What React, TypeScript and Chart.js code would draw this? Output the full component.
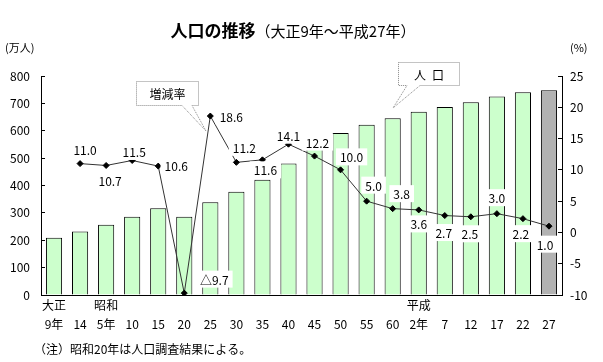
import React, { useEffect, useRef } from "react";
import { Chart, registerables } from "chart.js";

Chart.register(...registerables);

const eraLabels = ["大正", "", "昭和", "", "", "", "", "", "", "", "", "", "", "", "平成", "", "", "", "", ""];
const yearLabels = ["9年", "14", "5年", "10", "15", "20", "25", "30", "35", "40", "45", "50", "55", "60", "2年", "7", "12", "17", "22", "27"];
const population = [209, 232, 257, 286, 317, 286, 339, 377, 421, 480, 539, 592, 622, 646, 669, 687, 704, 725, 741, 748];
const growthRate = [null, 11.0, 10.7, 11.5, 10.6, -9.7, 18.6, 11.2, 11.6, 14.1, 12.2, 10.0, 5.0, 3.8, 3.6, 2.7, 2.5, 3.0, 2.2, 1.0];
// label offsets (dx, dy) relative to each point
const labelOffsets: [number, number][] = [
  [0, 0], [5, -14], [4, 15], [2, -9], [18, -1], [30, -14], [21, 0], [8, -15], [3, 10], [0, -9],
  [3, -14], [11, -13], [7, -16], [9, -15], [0, 14], [-1, 17], [-1, 17], [0, -16], [-2, 15], [-4, 18],
];

const FONT = "'Noto Sans CJK JP', 'Noto Sans', sans-serif";

const labelsPlugin = {
  id: "customDraw",
  afterDatasetsDraw(chart: any) {
    const ctx = chart.ctx;
    const meta = chart.getDatasetMeta(1);
    ctx.save();
    ctx.font = `12px ${FONT}`;
    ctx.textAlign = "center";
    ctx.textBaseline = "middle";
    meta.data.forEach((pt: any, i: number) => {
      const v = growthRate[i];
      if (v === null || v === undefined) return;
      const txt = v < 0 ? "△" + Math.abs(v).toFixed(1) : v.toFixed(1);
      const [dx, dy] = labelOffsets[i];
      const x = pt.x + dx;
      const y = pt.y + dy;
      const w = ctx.measureText(txt).width + 8;
      const h = 17;
      ctx.fillStyle = "#ffffff";
      ctx.fillRect(x - w / 2, y - h / 2, w, h);
      ctx.fillStyle = "#000000";
      ctx.fillText(txt, x, y + 1);
    });
    ctx.restore();
  },
  afterDraw(chart: any) {
    const ctx = chart.ctx;
    ctx.save();
    // title
    ctx.fillStyle = "#000";
    ctx.textBaseline = "middle";
    ctx.textAlign = "left";
    ctx.font = `bold 17px ${FONT}`;
    const t1 = "人口の推移";
    const w1 = ctx.measureText(t1).width;
    ctx.font = `15px ${FONT}`;
    const t2 = "（大正9年～平成27年）";
    const w2 = ctx.measureText(t2).width;
    const startX = 293 - (w1 + w2) / 2;
    ctx.font = `bold 17px ${FONT}`;
    ctx.fillText(t1, startX, 31);
    ctx.font = `15px ${FONT}`;
    ctx.fillText(t2, startX + w1, 31);
    // axis units
    ctx.font = `11px ${FONT}`;
    ctx.fillText("(万人)", 5, 48);
    ctx.fillText("(%)", 570, 48);
    // footnote
    ctx.font = `12px ${FONT}`;
    ctx.fillText("（注）昭和20年は人口調査結果による。", 34, 349);

    // callouts
    const callout = (bx: number, by: number, bw: number, bh: number, tail: [number, number][], text: string) => {
      ctx.beginPath();
      ctx.moveTo(bx, by);
      ctx.lineTo(bx + bw, by);
      ctx.lineTo(bx + bw, by + bh);
      ctx.lineTo(tail[1][0], by + bh);
      ctx.lineTo(tail[2][0], tail[2][1]);
      ctx.lineTo(tail[0][0], by + bh);
      ctx.lineTo(bx, by + bh);
      ctx.closePath();
      ctx.fillStyle = "#fff";
      ctx.fill();
      ctx.setLineDash([1, 1]);
      ctx.strokeStyle = "#888";
      ctx.lineWidth = 1;
      ctx.stroke();
      ctx.setLineDash([]);
      ctx.fillStyle = "#000";
      ctx.textAlign = "center";
      ctx.font = `12px ${FONT}`;
      ctx.fillText(text, bx + bw / 2, by + bh / 2 + 1);
    };
    callout(136.5, 81.5, 62, 24, [[182, 0], [192, 0], [206, 131]], "増減率");
    callout(398.5, 62.5, 61, 23, [[407, 0], [420, 0], [393, 108]], "人\u2002口");
    ctx.restore();
  },
};

export default function App() {
  const ref = useRef<HTMLCanvasElement | null>(null);
  useEffect(() => {
    if (!ref.current) return;
    const labels = yearLabels.map((y, i) => [eraLabels[i], y]);
    const chart = new Chart(ref.current, {
      type: "bar",
      data: {
        labels,
        datasets: [
          {
            type: "bar",
            label: "人口",
            data: population,
            yAxisID: "y",
            backgroundColor: population.map((_, i) => (i === population.length - 1 ? "#b2b2b2" : "#ccffcc")),
            borderColor: "#000",
            borderWidth: 1,
            barPercentage: 0.62,
            categoryPercentage: 1,
            order: 2,
          },
          {
            type: "line",
            label: "増減率",
            data: growthRate as any,
            yAxisID: "y1",
            borderColor: "#333",
            borderWidth: 1,
            pointStyle: "rectRot",
            pointRadius: 3,
            pointBackgroundColor: "#000",
            pointBorderColor: "#000",
            spanGaps: false,
            order: 1,
          },
        ],
      },
      options: {
        responsive: false,
        animation: false,
        devicePixelRatio: 1,
        layout: { padding: { top: 76, left: 0, right: 0, bottom: 0 } },
        plugins: { legend: { display: false }, tooltip: { enabled: false }, title: { display: false } },
        scales: {
          x: {
            grid: { display: false },
            border: { display: true, color: "#000", width: 1 },
            ticks: {
              autoSkip: false,
              maxRotation: 0,
              minRotation: 0,
              color: "#000",
              padding: -7,
              font: { family: FONT, size: 12, lineHeight: "19px" as any },
            },
            afterFit: (s: any) => { s.height = 67; },
          },
          y: {
            position: "left",
            min: 0,
            max: 800,
            ticks: { stepSize: 100, color: "#000", padding: 15, font: { family: FONT, size: 12 } },
            grid: { drawOnChartArea: false, tickLength: -4, color: "#000" },
            border: { display: true, color: "#000", width: 1 },
            afterFit: (s: any) => { s.width = 41; },
          },
          y1: {
            position: "right",
            min: -10,
            max: 25,
            ticks: { stepSize: 5, color: "#000", padding: 12, font: { family: FONT, size: 12 } },
            grid: { drawOnChartArea: false, tickLength: -4, color: "#000" },
            border: { display: true, color: "#000", width: 1 },
            afterFit: (s: any) => { s.width = 41; },
          },
        },
      },
      plugins: [labelsPlugin],
    });
    return () => chart.destroy();
  }, []);
  return (
    <div style={{ position: "absolute", left: 0, top: 0, width: 603, height: 362, background: "#fff" }}>
      <canvas ref={ref} width={603} height={362} style={{ width: 603, height: 362 }} />
    </div>
  );
}
